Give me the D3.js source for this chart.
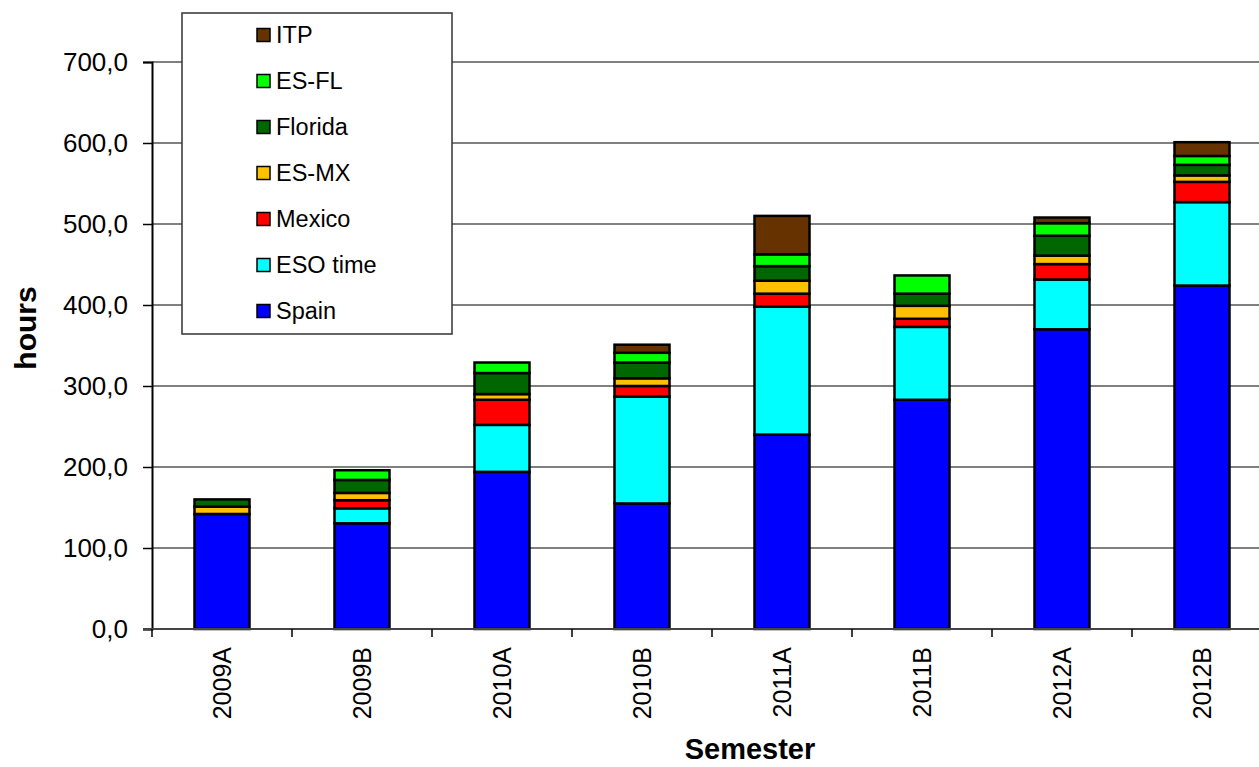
<!DOCTYPE html>
<html>
<head>
<meta charset="utf-8">
<script src="https://cdn.jsdelivr.net/npm/d3@7"></script>
<style>
  body { margin: 0; background: #fff; }
  svg { display: block; font-family: "Liberation Sans", Arial, sans-serif; }
</style>
</head>
<body>
<div id="chart"></div>
<script>
// semesters on the x axis
var semesters = ["2009A", "2009B", "2010A", "2010B", "2011A", "2011B", "2012A", "2012B"];

// hours per source
var spain   = [142, 130.5, 194, 155, 240, 283, 370, 424];
var esoTime = [0, 18.5, 58, 132, 158, 90, 61.5, 103];
var mexico  = [0, 10, 31, 13, 16, 10, 19, 25];
var esMx    = [9, 9, 7, 9.5, 16, 16, 10.5, 8];
var florida = [9, 16, 26, 19.5, 18, 15, 24.5, 13];
var esFl    = [0, 12, 13, 12, 14.5, 22.5, 15.5, 11];
var itp     = [0, 0, 0, 10, 47.5, 0, 7, 17];

var seriesNames = ["Spain", "ESO time", "Mexico", "ES-MX", "Florida", "ES-FL", "ITP"];
var seriesValues = [spain, esoTime, mexico, esMx, florida, esFl, itp];
var seriesColors = ["#0000ff", "#00ffff", "#ff0000", "#ffc000", "#006600", "#00ff00", "#663300"];

var yTicks = [0, 100, 200, 300, 400, 500, 600, 700];

var svgWidth = 1259;
var svgHeight = 767;

// plot area (right side runs off the picture in the original)
var plot = { left: 152, right: 1272, top: 62, bottom: 629 };

// build rows for d3.stack
var rows = semesters.map(function(s, i) {
  var row = { semester: s };
  seriesNames.forEach(function(name, j) { row[name] = seriesValues[j][i]; });
  return row;
});

var stacked = d3.stack().keys(seriesNames)(rows);

var svg = d3.select("#chart")
  .append("svg")
  .attr("width", svgWidth)
  .attr("height", svgHeight);

var xScale = d3.scaleBand()
  .domain(semesters)
  .range([plot.left, plot.right])
  .paddingInner(0)
  .paddingOuter(0);

var yScale = d3.scaleLinear()
  .domain([0, 700])
  .range([plot.bottom, plot.top]);

var barWidth = 55;

// gridlines
svg.append("g")
  .selectAll("line")
  .data(yTicks.filter(d => d > 0))
  .enter()
  .append("line")
  .attr("x1", plot.left)
  .attr("x2", plot.right)
  .attr("y1", d => yScale(d))
  .attr("y2", d => yScale(d))
  .attr("stroke", "#808080")
  .attr("stroke-width", 2);

// y axis
var yAxis = d3.axisLeft(yScale)
  .tickValues(yTicks)
  .tickSize(9)
  .tickPadding(15)
  .tickFormat(d => d3.format(".1f")(d).replace(".", ","));

var yAxisG = svg.append("g")
  .attr("transform", `translate(${plot.left}, 0)`)
  .call(yAxis);

yAxisG.select(".domain").attr("stroke", "#000").attr("stroke-width", 2);
yAxisG.selectAll(".tick line").attr("stroke", "#000").attr("stroke-width", 1.5);
yAxisG.selectAll(".tick text")
  .attr("font-size", 26)
  .attr("fill", "#000")
  .style("font-family", "'Liberation Sans', Arial, sans-serif");

// bars
var layers = svg.append("g")
  .selectAll("g")
  .data(stacked)
  .enter()
  .append("g")
  .attr("fill", (d, i) => seriesColors[i]);

layers.selectAll("rect")
  .data(d => d.filter(p => p[1] - p[0] > 0))
  .enter()
  .append("rect")
  .attr("x", d => xScale(d.data.semester) + xScale.bandwidth() / 2 - barWidth / 2)
  .attr("y", d => yScale(d[1]))
  .attr("width", barWidth)
  .attr("height", d => yScale(d[0]) - yScale(d[1]))
  .attr("stroke", "#000")
  .attr("stroke-width", 2.5);

// x axis
var xAxisG = svg.append("g")
  .attr("transform", `translate(0, ${plot.bottom})`);

xAxisG.append("line")
  .attr("x1", plot.left - 9)
  .attr("x2", plot.right)
  .attr("stroke", "#444")
  .attr("stroke-width", 2);

xAxisG.selectAll(".xtick")
  .data(semesters)
  .enter()
  .append("line")
  .attr("class", "xtick")
  .attr("x1", d => xScale(d))
  .attr("x2", d => xScale(d))
  .attr("y1", 0)
  .attr("y2", 8)
  .attr("stroke", "#000")
  .attr("stroke-width", 1.5);

xAxisG.selectAll(".xlabel")
  .data(semesters)
  .enter()
  .append("text")
  .attr("class", "xlabel")
  .attr("transform", d => `translate(${xScale(d) + xScale.bandwidth() / 2}, 18) rotate(-90)`)
  .attr("text-anchor", "end")
  .attr("dy", "0.36em")
  .attr("font-size", 25)
  .text(d => d);

// axis titles
svg.append("text")
  .attr("transform", "translate(36, 328) rotate(-90)")
  .attr("text-anchor", "middle")
  .attr("font-size", 30)
  .attr("font-weight", "bold")
  .text("hours");

svg.append("text")
  .attr("x", 750)
  .attr("y", 759)
  .attr("text-anchor", "middle")
  .attr("font-size", 29)
  .attr("font-weight", "bold")
  .text("Semester");

// legend
var legend = svg.append("g");

legend.append("rect")
  .attr("x", 182)
  .attr("y", 13)
  .attr("width", 270)
  .attr("height", 321)
  .attr("fill", "#fff")
  .attr("stroke", "#333")
  .attr("stroke-width", 1.5);

var legendItems = legend.selectAll(".item")
  .data(seriesNames.slice().reverse())
  .enter()
  .append("g")
  .attr("class", "item")
  .attr("transform", (d, i) => `translate(257, ${35 + i * 46})`);

legendItems.append("rect")
  .attr("x", 0)
  .attr("y", -6.5)
  .attr("width", 13)
  .attr("height", 13)
  .attr("fill", d => seriesColors[seriesNames.indexOf(d)])
  .attr("stroke", "#000")
  .attr("stroke-width", 1.5);

legendItems.append("text")
  .attr("x", 19)
  .attr("dy", "0.36em")
  .attr("font-size", 23.5)
  .text(d => d);
</script>
</body>
</html>
